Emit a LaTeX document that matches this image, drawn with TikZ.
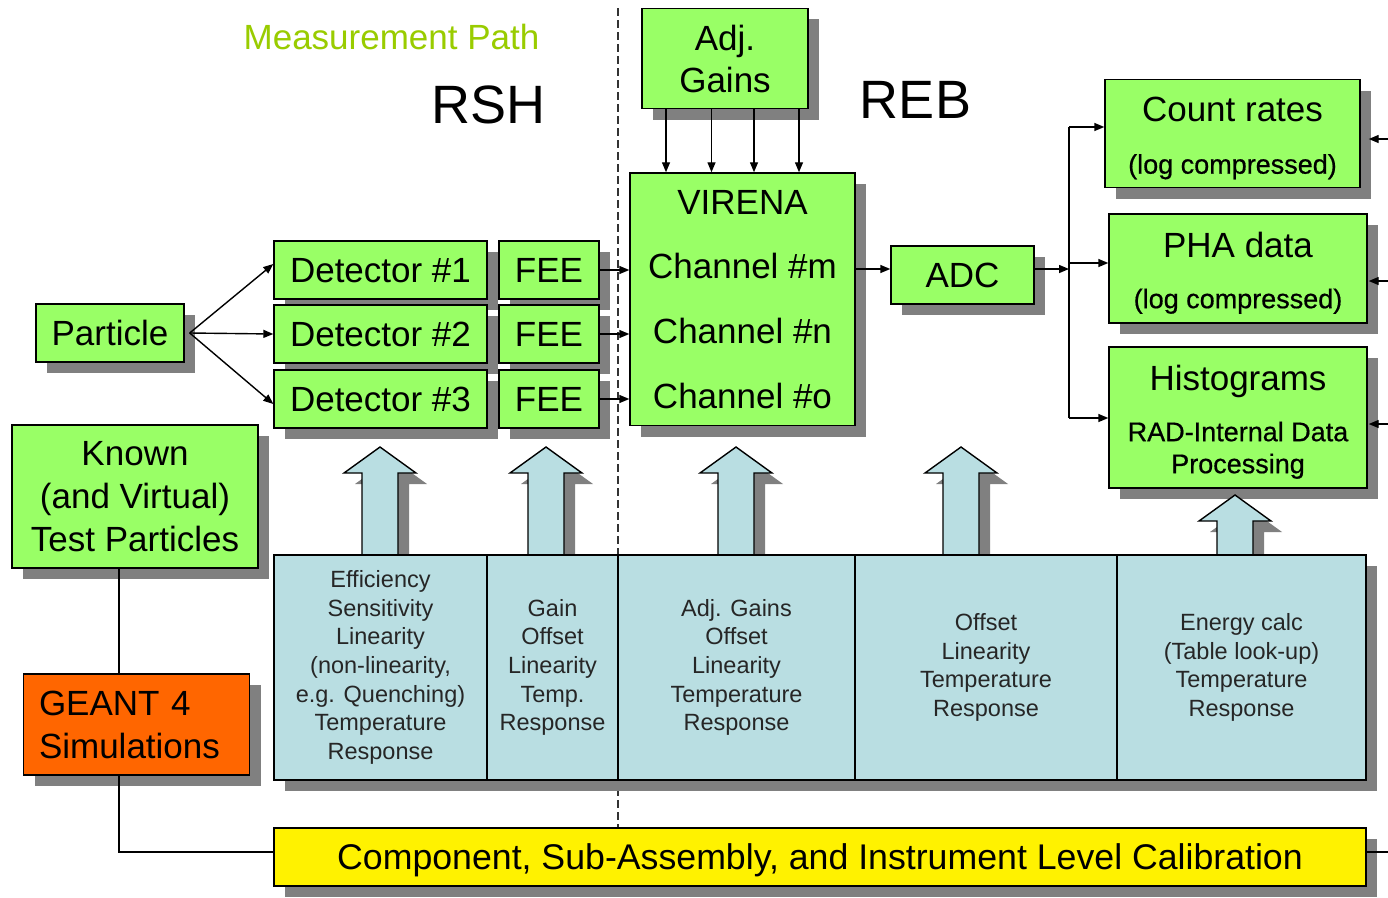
\documentclass[tikz,border=0pt]{standalone}
\usepackage{fontspec}
\setmainfont{Liberation Sans}
\usetikzlibrary{shadows,arrows.meta,calc}
\definecolor{boxgreen}{RGB}{153,255,102}
\definecolor{geantorange}{RGB}{255,102,0}
\definecolor{tblue}{RGB}{185,222,226}
\definecolor{mpgreen}{RGB}{153,204,0}
\definecolor{shadowgray}{RGB}{128,128,128}
\newcommand\bigf{\fontsize{35}{42}\selectfont}
\newcommand\smallf{\fontsize{23.5}{28.6}\selectfont}
\newcommand\heavyf[1]{\fontsize{27}{#1}\selectfont\addfontfeature{FakeBold=0.6}}
\begin{document}
\begin{tikzpicture}[x=1pt,y=-1pt,
  shad/.style={drop shadow={shadow xshift=11pt,shadow yshift=-11pt,opacity=1,fill=shadowgray}},
  gbox/.style={draw=black,line width=1.4pt,fill=boxgreen,shad,inner sep=0pt,font=\bigf,align=center},
  oneline/.style={text height=25pt,text depth=0pt},
  conn/.style={line width=1.4pt,-{Triangle[length=10pt,width=8pt]}},
  plain/.style={line width=1.4pt},
  cell/.style={draw=black,line width=1.4pt,fill=tblue,shad,inner sep=0pt,minimum height=225pt,font=\smallf,align=center,text=black!85},
  barrow/.style={draw=black,line width=1.4pt,fill=tblue,shad},
  dline/.style={line width=1.2pt,dash pattern=on 8pt off 4pt,black!80}]
\useasboundingbox (0,0) rectangle (1388,897);
\fill[white] (0,0) rectangle (1388,897);

% dashed separator
\coordinate (dtop) at (618,8);
\coordinate (dbot) at (618,897);
\draw[dline] (dtop) -- (dbot);

% titles
\node[anchor=base,font=\fontsize{35}{42}\selectfont,text=mpgreen] (mp) at (391.5,49) {Measurement Path};
\node[anchor=base,font=\fontsize{54}{60}\selectfont] (rsh) at (488.5,123) {RSH};
\node[anchor=base,font=\fontsize{54}{60}\selectfont] (reb) at (915.5,118) {REB};

% green boxes
\node[gbox,oneline,minimum width=148pt,minimum height=58pt] (particle) at (110,333) {Particle};
\node[gbox,oneline,minimum width=213pt,minimum height=58pt] (det1) at (380.5,270) {Detector \#1};
\node[gbox,oneline,minimum width=213pt,minimum height=58pt] (det2) at (380.5,334) {Detector \#2};
\node[gbox,oneline,minimum width=213pt,minimum height=58pt] (det3) at (380.5,399) {Detector \#3};
\node[gbox,oneline,minimum width=100pt,minimum height=58pt] (fee1) at (549,270) {FEE};
\node[gbox,oneline,minimum width=100pt,minimum height=58pt] (fee2) at (549,334) {FEE};
\node[gbox,oneline,minimum width=100pt,minimum height=58pt] (fee3) at (549,399) {FEE};
\node[gbox,minimum width=225pt,minimum height=252.7pt,font=\fontsize{35}{64.7}\selectfont] (virena) at (742.5,299.3)
  {VIRENA\\Channel \#m\\Channel \#n\\Channel \#o};
\node[gbox,minimum width=166pt,minimum height=100.5pt,font=\fontsize{35}{42}\selectfont] (adj) at (725,58.5) {Adj.\\Gains};
\node[gbox,oneline,minimum width=143pt,minimum height=58pt] (adc) at (962.5,275) {ADC};
\node[gbox,minimum width=255pt,minimum height=108pt,font=\fontsize{35}{52}\selectfont] (count) at (1232.5,133.5)
  {\rule{0pt}{34pt}Count rates\\{\heavyf{52}(log compressed)}};
\node[gbox,minimum width=258pt,minimum height=109pt,font=\fontsize{35}{51}\selectfont] (pha) at (1238,268.5)
  {\rule{0pt}{34pt}PHA data\\{\heavyf{51}(log compressed)}};
\node[gbox,minimum width=258pt,minimum height=141pt,font=\fontsize{35}{51}\selectfont] (hist) at (1238,417.5)
  {\rule{0pt}{34pt}Histograms\\{\heavyf{51}RAD-Internal Data}\\[-19pt]{\heavyf{32}Processing}};
\node[gbox,minimum width=246pt,minimum height=143pt,font=\fontsize{35}{43}\selectfont] (known) at (135,496.5)
  {Known\\(and Virtual)\\Test Particles};
\node[gbox,fill=geantorange,minimum width=226pt,minimum height=101pt,align=left,text width=195pt,font=\fontsize{35}{43}\selectfont] (geant) at (136.5,724.5)
  {GEANT 4\\Simulations};

% block arrows
\foreach \cx in {380,546,736,961}{
  \path[barrow] (\cx,447) -- ++(36,26) -- ++(-18,0) -- ++(0,82) -- ++(-36,0) -- ++(0,-82) -- ++(-18,0) -- cycle;
}
\path[barrow] (1235,495) -- ++(36,26) -- ++(-18,0) -- ++(0,34) -- ++(-36,0) -- ++(0,-34) -- ++(-18,0) -- cycle;

% calibration table
\node[cell,minimum width=213pt] (c1) at (380.5,667.5)
  {Efficiency\\Sensitivity\\Linearity\\(non-linearity,\\e.g. Quenching)\\Temperature\\Response};
\node[cell,minimum width=131pt] (c2) at (552.5,667.5)
  {Gain\\Offset\\Linearity\\Temp.\\Response};
\node[cell,minimum width=237pt] (c3) at (736.5,667.5)
  {Adj. Gains\\Offset\\Linearity\\Temperature\\Response};
\node[cell,minimum width=262pt] (c4) at (986,667.5)
  {Offset\\Linearity\\Temperature\\Response};
\node[cell,minimum width=249pt] (c5) at (1241.5,667.5)
  {Energy calc\\(Table look-up)\\Temperature\\Response};

% yellow bar
\node[gbox,oneline,fill=yellow,minimum width=1092pt,minimum height=58pt,font=\fontsize{35.7}{42}\selectfont] (yellowbar) at (820,857)
  {Component, Sub-Assembly, and Instrument Level Calibration};

% connectors
\draw[conn] ([xshift=5pt]particle.east) -- ([yshift=6pt]det1.west);
\draw[conn] ([xshift=5pt]particle.east) -- (det2.west);
\draw[conn] ([xshift=5pt]particle.east) -- ([yshift=-5pt]det3.west);
\foreach \i in {1,2,3}{
  \draw[conn] (fee\i.east) -- (fee\i.east -| virena.west);
}
\foreach \dx in {-59,-13.5,29,74}{
  \coordinate (t) at ($(adj.south)+(\dx,0)$);
  \draw[conn] (t) -- (t |- virena.north);
}
\coordinate (adcin) at ($(adc.west)+(0,-6)$);
\draw[conn] (adcin -| virena.east) -- (adcin);
\coordinate (jm) at (1069,269);
\coordinate (j1) at (1069,127);
\coordinate (j2) at (1069,263);
\coordinate (j3) at (1069,418);
\draw[conn] (jm -| adc.east) -- (jm);
\draw[plain] (j1) -- (j3);
\draw[conn] (j1) -- (j1 -| count.west);
\draw[conn] (j2) -- (j2 -| pha.west);
\draw[conn] (j3) -- (j3 -| hist.west);
\coordinate (r1) at (1388,139);
\coordinate (r2) at (1388,281);
\coordinate (r3) at (1388,424);
\coordinate (r4) at (1388,852);
\draw[conn] (r1) -- ($(r1 -| count.east)+(8,0)$);
\draw[conn] (r2) -- ($(r2 -| pha.east)+(1,0)$);
\draw[conn] (r3) -- ($(r3 -| hist.east)+(1,0)$);
\draw[plain] (r4 -| yellowbar.east) -- (r4);
\coordinate (lx) at (119,0);
\draw[plain] (known.south -| lx) -- (geant.north -| lx);
\draw[plain] (geant.south -| lx) |- ($(yellowbar.west)+(0,-5)$);
\end{tikzpicture}
\end{document}
